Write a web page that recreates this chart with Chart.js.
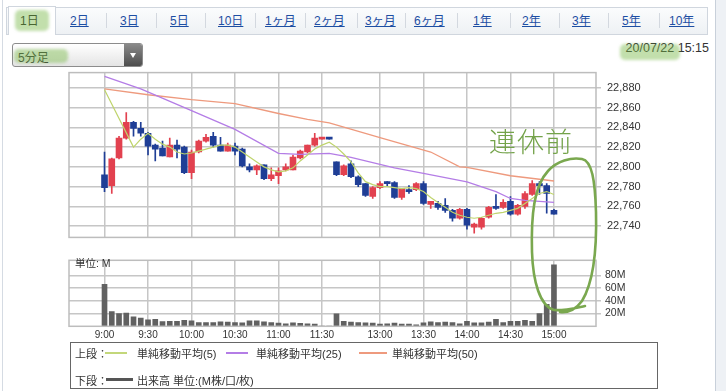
<!DOCTYPE html>
<html lang="ja">
<head>
<meta charset="utf-8">
<script src="https://cdn.jsdelivr.net/npm/chart.js@4.4.1/dist/chart.umd.min.js"></script>
<style>
  html, body { margin: 0; padding: 0; background: #fff; }
  body { width: 726px; height: 391px; position: relative; overflow: hidden;
         font-family: "Liberation Sans", "Noto Sans CJK JP", sans-serif; color: #333; }
  #frame { position: absolute; left: 2px; top: 0; width: 712px; height: 391px;
           border-left: 1px solid #d5dbe3; border-right: 1px solid #c8d0da; }
  #side { position: absolute; left: 716px; top: 0; width: 10px; height: 391px; background: #eef1f5; }
  #tabbar { position: absolute; left: 6px; top: 7px; width: 700px; height: 26px;
            border: 1px solid #d0d6de; background: linear-gradient(#fbfcfd, #eef1f4); }
  #active { position: absolute; left: 8px; top: 6px; width: 46px; height: 28px; background: #fff;
            border: 1px solid #d0d6de; border-bottom: none; }
  .tab { position: absolute; top: 14px; font-size: 12px; line-height: 14px; color: #1d4ea3; text-decoration: underline; }
  .sep { position: absolute; top: 13px; width: 1px; height: 15px; background: #d3d8df; }
  #select { position: absolute; left: 12px; top: 43px; width: 129px; height: 22px; border: 1px solid #8c8c8c;
            border-radius: 3px; background: linear-gradient(#ffffff, #e4e4e4); overflow: hidden; }
  #select span { position: absolute; left: 5px; top: 4px; font-size: 12px; color: #333; }
  #select i { position: absolute; right: 0; top: 0; width: 18px; height: 22px; background: linear-gradient(#8a8a8a, #4d4d4d); }
  #select i:after { content: ""; position: absolute; left: 6px; top: 9px; border-left: 3px solid transparent;
                    border-right: 3px solid transparent; border-top: 5px solid #fff; }
  #date { position: absolute; right: 17px; top: 41px; font-size: 12.5px; color: #333; }
  canvas { position: absolute; left: 0; }
  #price { top: 60px; }
  #volume { top: 250px; }
  #unit { position: absolute; left: 75px; top: 255px; font-size: 10.5px; color: #333; }
  #legend { position: absolute; left: 70px; top: 342px; width: 586px; height: 45px; border: 1px solid #666; font-size: 11px; }
  #legend div { position: absolute; white-space: nowrap; }
  #legend b { position: absolute; height: 2px; }
  #note { position: absolute; left: 489px; top: 121px; font-family: "Noto Sans CJK JP", sans-serif;
          font-size: 27px; font-weight: 300; letter-spacing: 1px; color: #74a34a; }
  #marks { top: 0; pointer-events: none; }
</style>
</head>
<body>
<div id="frame"></div>
<div id="side"></div>
<div id="tabbar"></div>
<div id="active"></div>
<div class="tab" style="left:20px;color:#222;text-decoration:none">1日</div>
<div class="tab" style="left:70px">2日</div>
<div class="sep" style="left:106px"></div>
<div class="tab" style="left:120px">3日</div>
<div class="sep" style="left:156px"></div>
<div class="tab" style="left:170px">5日</div>
<div class="sep" style="left:205px"></div>
<div class="tab" style="left:218px">10日</div>
<div class="sep" style="left:255px"></div>
<div class="tab" style="left:265px">1ヶ月</div>
<div class="sep" style="left:305px"></div>
<div class="tab" style="left:314px">2ヶ月</div>
<div class="sep" style="left:357px"></div>
<div class="tab" style="left:365px">3ヶ月</div>
<div class="sep" style="left:405px"></div>
<div class="tab" style="left:414px">6ヶ月</div>
<div class="sep" style="left:457px"></div>
<div class="tab" style="left:473px">1年</div>
<div class="sep" style="left:510px"></div>
<div class="tab" style="left:522px">2年</div>
<div class="sep" style="left:559px"></div>
<div class="tab" style="left:572px">3年</div>
<div class="sep" style="left:608px"></div>
<div class="tab" style="left:622px">5年</div>
<div class="sep" style="left:659px"></div>
<div class="tab" style="left:669px">10年</div>

<div id="select"><span>5分足</span><i></i></div>
<div id="date">20/07/22 15:15</div>

<canvas id="price" width="726" height="190"></canvas>
<canvas id="volume" width="726" height="95"></canvas>
<div id="unit">単位: M</div>

<div id="legend">
  <div style="left:4px;top:2px">上段：</div>
  <b style="left:34px;top:9px;width:22px;background:#c3d77a"></b>
  <div style="left:66px;top:2px">単純移動平均(5)</div>
  <b style="left:155px;top:9px;width:22px;background:#b47de6"></b>
  <div style="left:185px;top:2px">単純移動平均(25)</div>
  <b style="left:288px;top:9px;width:28px;background:#ee9a7e"></b>
  <div style="left:321px;top:2px">単純移動平均(50)</div>
  <div style="left:4px;top:29px">下段：</div>
  <b style="left:35px;top:35px;width:27px;height:3px;background:#555"></b>
  <div style="left:66px;top:29px">出来高 単位:(M株/口/枚)</div>
</div>

<div id="note">連休前</div>
<canvas id="marks" width="726" height="391"></canvas>

<script>
// 5分足の位置 (9:00 = 0 ... 15:00 = 62)
const tickPos = [0, 6, 12, 18, 24, 30, 38, 44, 50, 56, 62];
const tickLabels = ["9:00", "9:30", "10:00", "10:30", "11:00", "11:30", "13:00", "13:30", "14:00", "14:30", "15:00"];
const priceTicks = [22740, 22760, 22780, 22800, 22820, 22840, 22860, 22880];
const volTicks = [20, 40, 60, 80];

// 四本値
const opens = [22792, 22781, 22809, 22829, 22845, 22839, 22834, 22822, 22819, 22810,
  22822, 22820, 22794, 22815, 22826, 22831, 22822, 22816, 22821, 22818,
  22800, 22797, 22802, 22788, 22791, 22797, 22797, 22809, 22815, 22822,
  22828, 22828.5, 22805, 22792, 22803, 22790, 22783, 22770, 22779, 22785,
  22784, 22769, 22777, 22777, 22783, 22762, 22763, 22761, 22756, 22748,
  22757, 22739, 22739, 22749, 22759, 22759, 22765, 22752, 22760, 22772,
  22783, 22781, 22756];
const highs = [22815, 22809, 22831, 22855, 22846, 22845, 22835, 22823, 22826, 22829,
  22827, 22821, 22817, 22827, 22833, 22835, 22830, 22824, 22824, 22819,
  22803, 22802, 22802, 22799, 22799, 22803, 22812, 22817, 22822, 22834,
  22828, 22828.5, 22805, 22802, 22806, 22791, 22783, 22780, 22785, 22785,
  22785, 22778, 22781, 22784, 22785, 22765, 22765, 22768, 22757, 22758,
  22758, 22743, 22749, 22760, 22772, 22767, 22770, 22762, 22775, 22786,
  22785, 22783, 22757];
const lows = [22775, 22773, 22808, 22828, 22831, 22831, 22812, 22806, 22811, 22810,
  22809, 22793, 22788, 22814, 22825, 22820, 22816, 22816, 22812, 22800,
  22795, 22792, 22787, 22786, 22783, 22796, 22797, 22808, 22814, 22821,
  22828, 22828, 22791, 22791, 22789, 22780, 22770, 22768, 22778, 22780,
  22768, 22767, 22773, 22776, 22762, 22758, 22757, 22754, 22745, 22747,
  22737, 22733, 22737, 22748, 22757, 22758, 22751, 22751, 22758, 22771,
  22772, 22753, 22752];
const closes = [22779, 22808, 22829, 22845, 22839, 22834, 22821, 22818, 22811, 22822,
  22818, 22794, 22815, 22826, 22830, 22822, 22816, 22822, 22816, 22801,
  22797, 22801, 22788, 22792, 22796, 22800, 22810, 22816, 22822, 22829,
  22828, 22828, 22792, 22801, 22790, 22782, 22771, 22779, 22783, 22783,
  22769, 22778, 22775, 22783, 22763, 22765, 22759, 22756, 22748, 22757,
  22741, 22742, 22748, 22759, 22758, 22764, 22752, 22761, 22773, 22783,
  22781, 22773, 22752];

// 出来高 (M)
const volumes = [66, 23, 20, 21, 15, 13, 10, 11, 7.5, 8,
  8, 9.5, 8.5, 6, 6, 6, 7, 6.5, 6, 5.5,
  8.5, 8.5, 7, 6, 5, 4, 5.5, 4.5, 4, 3.5,
  0.5, 0.3, 19.5, 8, 6.5, 6, 5.5, 5, 3.5, 4,
  5, 3.5, 3.5, 2.5, 5.5, 7, 6, 6.5, 6, 4,
  8, 5.5, 5.5, 6.5, 11, 6, 8, 8, 9.5, 8,
  20, 34.7, 97];

// 移動平均 [位置, 値]
const ma5 = [[0, 22878], [4, 22820], [5, 22828], [6, 22834], [7, 22828], [8, 22823], [9, 22820],
  [10, 22815], [11, 22813], [12, 22814], [13, 22816], [14, 22818], [15, 22820], [16, 22822],
  [17, 22822], [18, 22820], [19, 22815], [20, 22810], [21, 22805], [22, 22800], [23, 22797],
  [24, 22795], [25, 22796], [26, 22799], [27, 22806], [28, 22812], [29, 22818], [30, 22822],
  [31, 22825], [32, 22820], [33, 22813], [34, 22805], [35, 22794], [36, 22785], [37, 22782],
  [38, 22780], [39, 22780], [40, 22779], [41, 22778], [42, 22779], [43, 22778], [44, 22775],
  [45, 22769], [46, 22764], [47, 22759], [48, 22754], [49, 22751], [50, 22749], [51, 22748],
  [52, 22749], [53, 22751], [54, 22753], [55, 22754], [56, 22756], [57, 22758], [58, 22763],
  [59, 22768], [60, 22773], [61, 22775], [62, 22772]];
const ma25 = [[0, 22891.5], [5, 22879], [12, 22857], [18, 22838], [24, 22813.6], [27, 22812.6],
  [31, 22813.6], [34, 22809.5], [40, 22799], [44, 22793.4], [50, 22784.7], [54, 22775],
  [56, 22768], [58, 22766], [62, 22764]];
const ma50 = [[0, 22879], [6, 22873], [12, 22868], [18, 22864], [24, 22854], [28, 22848],
  [31, 22844.5], [38, 22829.5], [45, 22815], [49, 22800], [50, 22799.5], [56, 22791], [62, 22785.7]];

const UP = "#e2414f", DOWN = "#1f3e96", GRID = "#c6c6c6";
const FONT = "'Liberation Sans', 'Noto Sans CJK JP', sans-serif";

const candleColors = opens.map((o, i) => (closes[i] >= o ? UP : DOWN));
const bodies = opens.map((o, i) => ({ x: i, y: [o, closes[i]] }));
const wicks = lows.map((l, i) => ({ x: i, y: [l, highs[i]] }));
const toXY = (pairs) => pairs.map((p) => ({ x: p[0], y: p[1] }));
const addComma = (v) => String(v).replace(/\B(?=(\d{3})+(?!\d))/g, ",");

// 枠線
const frameBorder = {
  id: "frameBorder",
  afterDraw(chart) {
    const a = chart.chartArea, ctx = chart.ctx;
    ctx.save();
    ctx.strokeStyle = "#bdbdbd";
    ctx.lineWidth = 1.5;
    ctx.strokeRect(a.left, a.top, a.right - a.left, a.bottom - a.top);
    ctx.restore();
  }
};

function timeAxis(showLabels) {
  return {
    type: "linear", min: -4.9, max: 67.8, offset: false,
    grid: { offset: false, color: GRID, lineWidth: 1.5, drawTicks: false },
    border: { display: false },
    ticks: {
      display: showLabels, color: "#333", padding: 3, maxRotation: 0, autoSkip: false,
      font: { size: 10, family: FONT },
      callback: (v, i) => tickLabels[i]
    },
    afterBuildTicks: (s) => { s.ticks = tickPos.map((v) => ({ value: v })); },
    afterFit: (s) => { s.height = showLabels ? 18.7 : 0; }
  };
}

// 上段: ローソク足と移動平均
new Chart(document.getElementById("price"), {
  type: "bar",
  data: {
    datasets: [
      { type: "line", data: toXY(ma5), borderColor: "#bfd46c", borderWidth: 1.2, pointRadius: 0, order: 0 },
      { type: "line", data: toXY(ma25), borderColor: "#b47de6", borderWidth: 1.3, pointRadius: 0, order: 0 },
      { type: "line", data: toXY(ma50), borderColor: "#ee9a7e", borderWidth: 1.3, pointRadius: 0, order: 0 },
      { data: bodies, backgroundColor: candleColors, barThickness: 6, minBarLength: 2, grouped: false, order: 1 },
      { data: wicks, backgroundColor: candleColors, barThickness: 1, grouped: false, order: 2 }
    ]
  },
  options: {
    responsive: false, animation: false, devicePixelRatio: 1,
    layout: { padding: { left: 69, top: 10, right: 0, bottom: 7 } },
    plugins: { legend: { display: false }, tooltip: { enabled: false } },
    scales: {
      x: timeAxis(false),
      y: {
        position: "right", min: 22728.6, max: 22895.4,
        grid: { color: GRID, lineWidth: 1.5, tickLength: 5 },
        border: { display: false },
        ticks: { color: "#333", padding: 6, font: { size: 11, family: FONT }, callback: (v) => addComma(v) },
        afterBuildTicks: (s) => { s.ticks = priceTicks.map((v) => ({ value: v })); },
        afterFit: (s) => { s.width = 130; }
      }
    }
  },
  plugins: [frameBorder]
});

// 下段: 出来高
new Chart(document.getElementById("volume"), {
  type: "bar",
  data: {
    datasets: [
      { data: volumes.map((v, i) => ({ x: i, y: v })), backgroundColor: "#616161", barThickness: 5, grouped: false }
    ]
  },
  options: {
    responsive: false, animation: false, devicePixelRatio: 1,
    layout: { padding: { left: 69, top: 3.3, right: 0, bottom: 0 } },
    plugins: { legend: { display: false }, tooltip: { enabled: false } },
    scales: {
      x: timeAxis(true),
      y: {
        position: "right", min: 0, max: 104,
        grid: { color: GRID, lineWidth: 1.5, tickLength: 5 },
        border: { display: false },
        ticks: { color: "#333", padding: 4, font: { size: 10.5, family: FONT }, callback: (v) => v + "M" },
        afterBuildTicks: (s) => { s.ticks = volTicks.map((v) => ({ value: v })); },
        afterFit: (s) => { s.width = 130; }
      }
    }
  },
  plugins: [frameBorder]
});

// 手書きの書き込み (マーカーと丸)
const mk = document.getElementById("marks").getContext("2d");
mk.save();
mk.filter = "blur(1.5px)";
mk.fillStyle = "rgba(120, 185, 70, 0.45)";
[[15, 10, 34, 21], [14, 49, 54, 14], [620, 44, 60, 16]].forEach((r) => {
  mk.beginPath();
  mk.roundRect(r[0], r[1], r[2], r[3], 5);
  mk.fill();
});
mk.restore();

mk.strokeStyle = "#7aa84f";
mk.lineWidth = 2.6;
mk.lineCap = "round";
mk.beginPath();
mk.moveTo(585, 306);
mk.bezierCurveTo(575, 308, 563, 311, 554, 310);
mk.bezierCurveTo(540, 306, 533, 282, 532, 252);
mk.bezierCurveTo(531, 215, 534, 186, 548, 171);
mk.bezierCurveTo(557, 161, 571, 157, 582, 159);
mk.bezierCurveTo(592, 161, 595, 180, 596, 212);
mk.bezierCurveTo(597, 252, 593, 283, 582, 301);
mk.bezierCurveTo(576, 309, 568, 313, 560, 312);
mk.stroke();
</script>
</body>
</html>
